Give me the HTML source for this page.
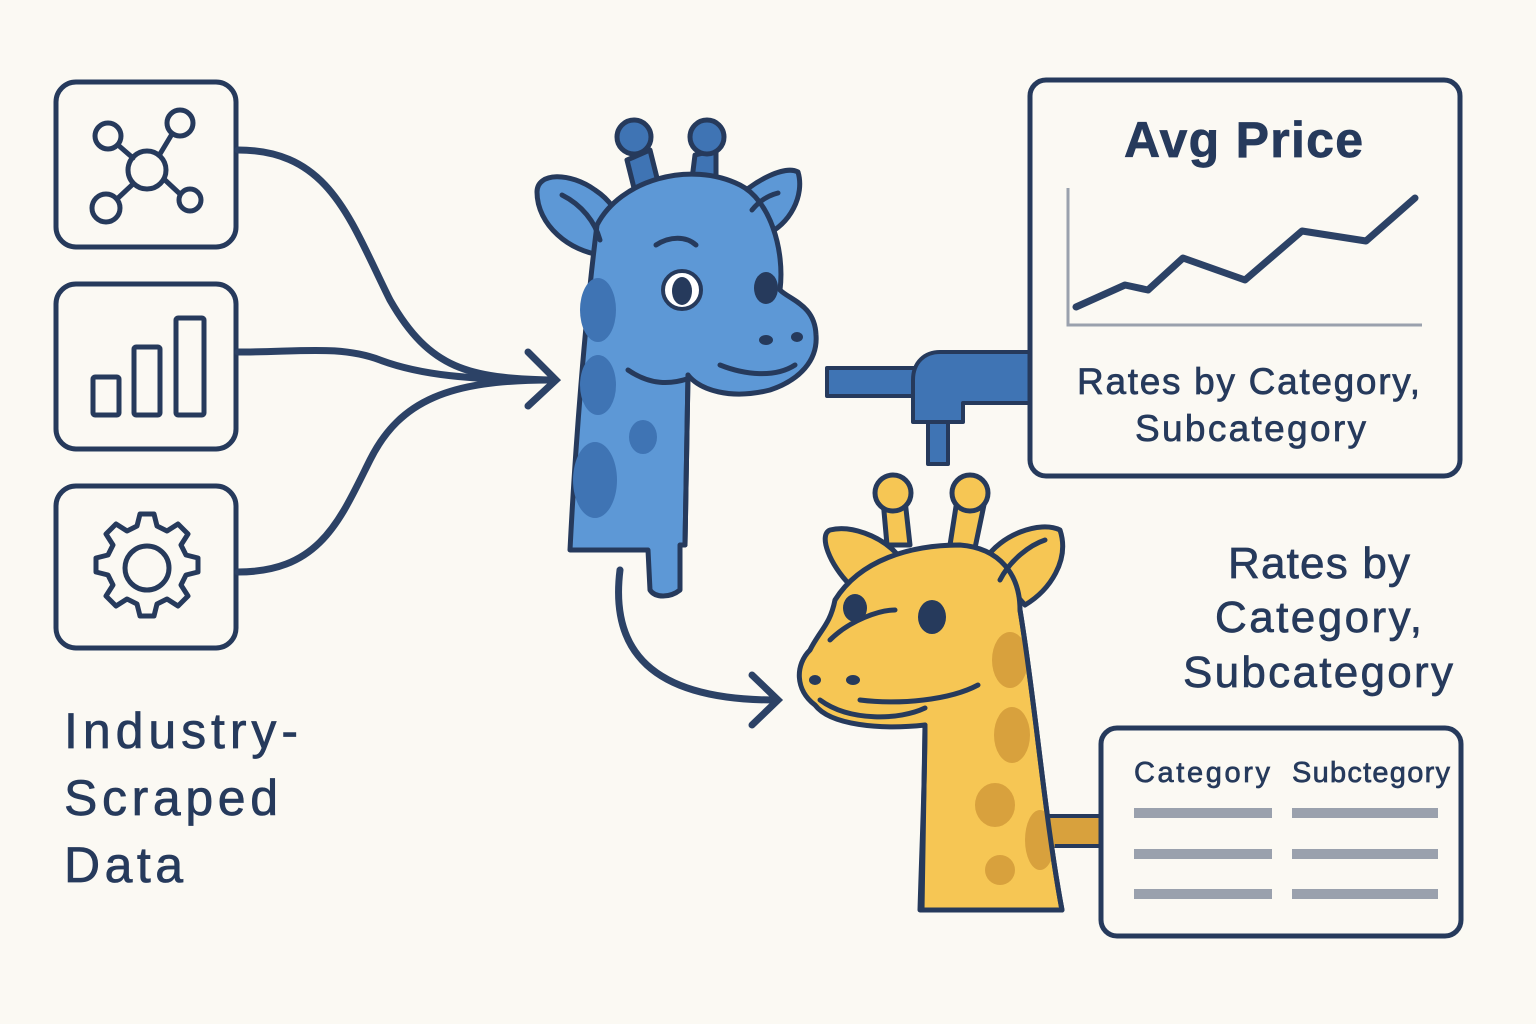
<!DOCTYPE html>
<html><head><meta charset="utf-8"><style>
html,body{margin:0;padding:0;background:#fbf9f3;}
svg{display:block}
text{font-family:"Liberation Sans","DejaVu Sans",sans-serif;fill:#263a5c;stroke:#263a5c;stroke-width:0.7}
</style></head><body>
<svg width="1536" height="1024" viewBox="0 0 1536 1024" xmlns="http://www.w3.org/2000/svg">
<rect width="1536" height="1024" fill="#fbf9f3"/>
<g fill="none" stroke="#263a5c" stroke-width="5" stroke-linecap="round" stroke-linejoin="round">
 <rect x="56" y="82" width="180" height="165" rx="20"/>
 <rect x="56" y="284" width="180" height="165" rx="20"/>
 <rect x="56" y="486" width="180" height="162" rx="20"/>
 <circle cx="147" cy="170" r="19"/>
 <circle cx="108" cy="136" r="13"/><circle cx="180" cy="123" r="13"/>
 <circle cx="106" cy="208" r="14"/><circle cx="190" cy="200" r="11"/>
 <line x1="118" y1="145" x2="133" y2="158"/><line x1="172" y1="134" x2="160" y2="154"/>
 <line x1="117" y1="199" x2="133" y2="184"/><line x1="180" y1="194" x2="165" y2="180"/>
 <rect x="93" y="377" width="26" height="38" rx="2"/>
 <rect x="134" y="347" width="26" height="68" rx="2"/>
 <rect x="176" y="318" width="28" height="97" rx="2"/>
 <circle cx="147" cy="568" r="22"/>
 <path d="M140 514 h14 l3 12 l10 5 l11 -7 l10 10 l-7 11 l5 10 l12 3 v14 l-12 3 l-5 10 l7 11 l-10 10 l-11 -7 l-10 5 l-3 12 h-14 l-3 -12 l-10 -5 l-11 7 l-10 -10 l7 -11 l-5 -10 l-12 -3 v-14 l12 -3 l5 -10 l-7 -11 l10 -10 l11 7 l10 -5 z"/>
</g>
<g fill="none" stroke="#2c4266" stroke-width="7" stroke-linecap="round">
 <path d="M238 150 C330 150 350 220 390 300 C430 370 470 378 550 380"/>
 <path d="M238 352 C300 352 340 345 380 360 C420 375 470 380 550 380"/>
 <path d="M238 572 C320 572 340 520 370 460 C400 400 450 380 550 380"/>
 <path d="M528 352 L556 380 L528 406"/>
 <path d="M620 570 C610 650 650 700 775 700"/>
 <path d="M752 675 L778 700 L752 725"/>
</g>
<text x="64" y="748" font-size="50" textLength="234">Industry-</text>
<text x="64" y="815" font-size="50" textLength="214">Scraped</text>
<text x="64" y="882" font-size="50" textLength="119">Data</text>

<g stroke="#263a5c" stroke-width="5" stroke-linejoin="round" stroke-linecap="round">
 <path d="M627 160 L637 200 L660 190 L650 150 Z" fill="#3f74b4"/>
 <circle cx="634" cy="137" r="17" fill="#3f74b4"/>
 <path d="M695 155 L690 195 L716 195 L716 150 Z" fill="#3f74b4"/>
 <circle cx="707" cy="137" r="17" fill="#3f74b4"/>
 <path d="M602 255 C570 252 537 225 537 192 C537 172 570 172 595 190 C610 200 618 212 622 228 Z" fill="#5d98d6"/>
 <path d="M735 200 C755 180 785 165 798 172 C805 195 790 225 765 235 Z" fill="#5d98d6"/>
 <path d="M597 225 C620 180 690 160 740 185 C770 200 785 250 780 290 C790 300 815 305 816 335 C818 360 800 380 770 390 C730 400 700 390 688 375 L685 545 L680 545 L680 590 C670 598 655 598 650 590 L648 550 L570 550 C575 450 585 320 597 225 Z" fill="#5d98d6"/>
</g>
<g fill="#3f74b4">
 <ellipse cx="598" cy="310" rx="18" ry="32"/><ellipse cx="598" cy="385" rx="18" ry="30"/>
 <ellipse cx="595" cy="480" rx="22" ry="38"/><ellipse cx="643" cy="437" rx="14" ry="17"/>
</g>
<g fill="none" stroke="#263a5c" stroke-width="5" stroke-linecap="round">
 <path d="M688 375 L685 545"/>
 <path d="M562 195 C582 205 595 222 600 240"/>
 <path d="M752 210 C760 200 770 195 778 193"/>
 <path d="M656 245 C670 236 686 236 696 245"/>
 <path d="M628 370 C650 385 670 385 690 378"/>
 <path d="M720 365 C745 375 775 378 795 365"/>
</g>
<circle cx="682" cy="290" r="19" fill="#fff" stroke="#263a5c" stroke-width="4"/>
<ellipse cx="682" cy="291" rx="10" ry="14" fill="#263a5c"/>
<ellipse cx="766" cy="288" rx="12" ry="16" fill="#263a5c"/>
<ellipse cx="766" cy="340" rx="7" ry="5" fill="#263a5c"/><ellipse cx="797" cy="337" rx="6" ry="5" fill="#263a5c"/>

<g stroke="#263a5c" stroke-width="4" stroke-linejoin="round">
 <rect x="827" y="368" width="90" height="28" fill="#3f74b4"/>
 <path d="M913 380 C913 362 925 352 940 352 L1030 352 L1030 403 L963 403 L963 422 L913 422 Z" fill="#3f74b4"/>
 <rect x="928" y="422" width="20" height="42" fill="#3f74b4"/>
</g>

<rect x="1030" y="80" width="430" height="396" rx="16" fill="#fbf9f3" stroke="#263a5c" stroke-width="5"/>
<text x="1124" y="157" font-size="50" font-weight="bold" textLength="239">Avg Price</text>
<path d="M1068 188 L1068 325 L1422 325" fill="none" stroke="#9aa1ad" stroke-width="3"/>
<path d="M1076 307 L1125 285 L1148 290 L1183 258 L1245 280 L1302 231 L1366 241 L1415 198" fill="none" stroke="#2c4266" stroke-width="7" stroke-linecap="round" stroke-linejoin="round"/>
<text x="1077" y="394" font-size="37" textLength="343">Rates by Category,</text>
<text x="1135" y="441" font-size="37" textLength="231">Subcategory</text>

<rect x="1040" y="816" width="65" height="30" fill="#d8a13d" stroke="#263a5c" stroke-width="4"/>
<g stroke="#263a5c" stroke-width="5" stroke-linejoin="round" stroke-linecap="round">
 <path d="M883 500 L887 545 L910 545 L905 500 Z" fill="#f6c654"/>
 <circle cx="893" cy="493" r="18" fill="#f6c654"/>
 <path d="M957 500 L950 545 L975 548 L985 500 Z" fill="#f6c654"/>
 <circle cx="970" cy="493" r="18" fill="#f6c654"/>
 <path d="M850 585 C830 565 818 535 830 530 C850 525 880 535 898 555 Z" fill="#f6c654"/>
 <path d="M985 560 C1000 535 1040 520 1060 530 C1070 560 1050 590 1025 605 Z" fill="#f6c654"/>
 <path d="M835 600 C860 560 910 545 960 545 C1000 548 1020 575 1020 610 C1035 700 1045 820 1062 910 L920 910 C922 840 925 780 925 725 C880 730 830 725 815 705 C795 690 795 665 810 650 C820 630 830 625 835 600 Z" fill="#f6c654"/>
</g>
<g fill="#d8a13d">
 <ellipse cx="1010" cy="660" rx="18" ry="28"/><ellipse cx="1012" cy="735" rx="18" ry="28"/>
 <ellipse cx="995" cy="805" rx="20" ry="22"/><ellipse cx="1040" cy="840" rx="15" ry="30"/>
 <ellipse cx="1000" cy="870" rx="15" ry="15"/>
</g>
<g fill="none" stroke="#263a5c" stroke-width="5" stroke-linecap="round">
 <path d="M1020 610 C1035 700 1045 820 1062 910"/>
 <path d="M925 725 L922 910"/>
 <path d="M1000 580 C1010 560 1030 545 1045 540"/>
 <path d="M830 640 C850 620 880 610 895 610"/>
 <path d="M860 700 C900 705 950 700 978 685"/>
 <path d="M820 700 C850 722 900 720 925 708"/>
</g>
<ellipse cx="932" cy="617" rx="14" ry="17" fill="#263a5c"/>
<ellipse cx="855" cy="608" rx="12" ry="14" fill="#263a5c"/>
<ellipse cx="815" cy="680" rx="6" ry="5" fill="#263a5c"/><ellipse cx="853" cy="680" rx="7" ry="5" fill="#263a5c"/>

<text x="1228" y="578" font-size="44" textLength="182">Rates by</text>
<text x="1215" y="632" font-size="44" textLength="207">Category,</text>
<text x="1183" y="687" font-size="44" textLength="270">Subcategory</text>

<rect x="1101" y="728" width="360" height="208" rx="16" fill="#fbf9f3" stroke="#263a5c" stroke-width="5"/>
<text x="1134" y="782" font-size="29" textLength="136">Category</text>
<text x="1292" y="782" font-size="29" textLength="158">Subctegory</text>
<g fill="#9aa1ad">
 <rect x="1134" y="808" width="138" height="10"/><rect x="1292" y="808" width="146" height="10"/>
 <rect x="1134" y="849" width="138" height="10"/><rect x="1292" y="849" width="146" height="10"/>
 <rect x="1134" y="889" width="138" height="10"/><rect x="1292" y="889" width="146" height="10"/>
</g>
</svg>
</body></html>
